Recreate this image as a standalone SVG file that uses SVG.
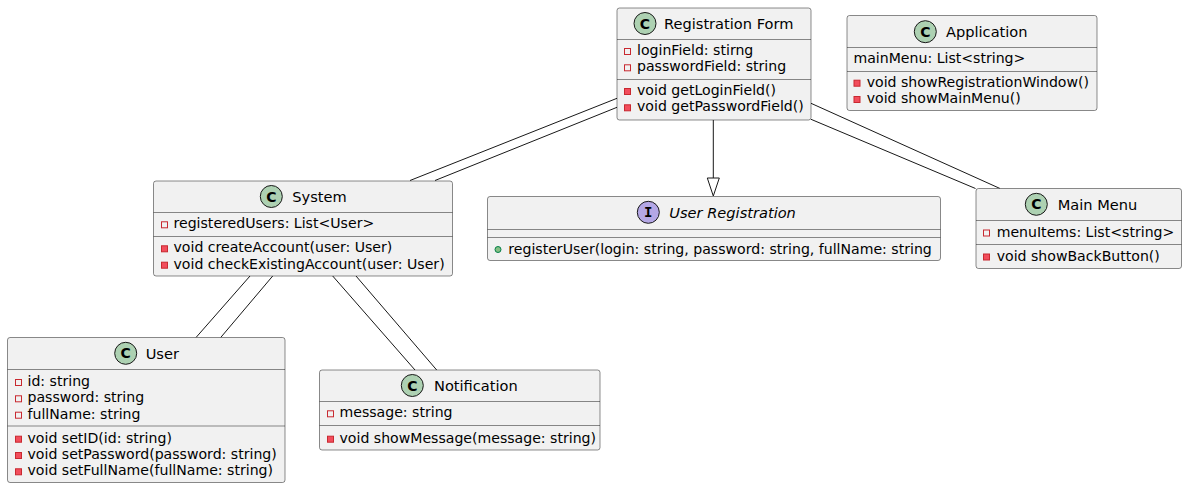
<svg xmlns="http://www.w3.org/2000/svg" width="1187" height="488" viewBox="0 0 1187 488">
<style>
text{font-family:"DejaVu Sans",Verdana,sans-serif;font-size:14.1px;fill:#000}
text.t{font-size:14.6px}
.box{fill:#F1F1F1;stroke:#181818;stroke-width:0.5}
.div{stroke:#181818;stroke-width:0.5}
.cc{fill:#ADD1B2;stroke:#181818;stroke-width:1}
.ci{fill:#B4A7E5;stroke:#181818;stroke-width:1}
.cl{font-family:"DejaVu Sans",sans-serif;font-weight:bold;font-size:14px;text-anchor:middle}
.il{font-family:"DejaVu Sans Mono",monospace;font-weight:bold;font-size:14px;text-anchor:middle}
.pf{fill:none;stroke:#C82930;stroke-width:1}
.pm{fill:#F24D5C;stroke:#C82930;stroke-width:1}
.pub{fill:#84BE84;stroke:#038048;stroke-width:1}
.edge{fill:none;stroke:#181818;stroke-width:1}
</style>
<g id="connectors">
<line class="edge" x1="617" y1="98.3" x2="410" y2="180.5"/>
<line class="edge" x1="617" y1="107.3" x2="435" y2="180.5"/>
<line class="edge" x1="713.3" y1="120" x2="713.3" y2="178"/>
<polygon points="707.3,178 719.3,178 713.3,196" fill="none" stroke="#181818" stroke-width="1"/>
<line class="edge" x1="811" y1="103.3" x2="1000" y2="188.5"/>
<line class="edge" x1="811" y1="119.3" x2="975.5" y2="188.5"/>
<line class="edge" x1="250" y1="276" x2="196" y2="337.5"/>
<line class="edge" x1="272.7" y1="276" x2="220.7" y2="337.5"/>
<line class="edge" x1="332.7" y1="276" x2="415" y2="370"/>
<line class="edge" x1="356" y1="276" x2="436.7" y2="370"/>
</g>
<g id="registration-form">
<rect class="box" x="617" y="8" width="194" height="112" rx="2.5"/>
<circle class="cc" cx="645" cy="23.5" r="11"/>
<text class="cl" x="645" y="28.5">C</text>
<text class="t" x="664" y="28.5">Registration Form</text>
<line class="div" x1="617" y1="39.5" x2="811" y2="39.5"/>
<rect class="pf" x="624.5" y="48.5" width="6" height="6"/>
<text x="637" y="55">loginField: stirng</text>
<rect class="pf" x="624.5" y="64.8" width="6" height="6"/>
<text x="637" y="71.3">passwordField: string</text>
<line class="div" x1="617" y1="79.5" x2="811" y2="79.5"/>
<rect class="pm" x="624.5" y="88.5" width="6" height="6"/>
<text x="637" y="95">void getLoginField()</text>
<rect class="pm" x="624.5" y="104.8" width="6" height="6"/>
<text x="637" y="111.3">void getPasswordField()</text>
</g>
<g id="application">
<rect class="box" x="847" y="15.5" width="250" height="95" rx="2.5"/>
<circle class="cc" cx="925.3" cy="31.7" r="11"/>
<text class="cl" x="925.3" y="36.7">C</text>
<text class="t" x="946" y="36.5">Application</text>
<line class="div" x1="847" y1="47.5" x2="1097" y2="47.5"/>
<text x="853.5" y="63.3">mainMenu: List&lt;string&gt;</text>
<line class="div" x1="847" y1="71.5" x2="1097" y2="71.5"/>
<rect class="pm" x="854" y="80.2" width="6" height="6"/>
<text x="866.7" y="86.7">void showRegistrationWindow()</text>
<rect class="pm" x="854" y="96.5" width="6" height="6"/>
<text x="866.7" y="103">void showMainMenu()</text>
</g>
<g id="system">
<rect class="box" x="153.5" y="181" width="299" height="95" rx="2.5"/>
<circle class="cc" cx="271.3" cy="196.5" r="11"/>
<text class="cl" x="271.3" y="201.5">C</text>
<text class="t" x="292.3" y="201.5">System</text>
<line class="div" x1="153.5" y1="212.5" x2="452.5" y2="212.5"/>
<rect class="pf" x="161.5" y="221.8" width="6" height="6"/>
<text x="173.5" y="228.3">registeredUsers: List&lt;User&gt;</text>
<line class="div" x1="153.5" y1="236.5" x2="452.5" y2="236.5"/>
<rect class="pm" x="161.5" y="245.8" width="6" height="6"/>
<text x="173.5" y="252.3">void createAccount(user: User)</text>
<rect class="pm" x="161.5" y="262.2" width="6" height="6"/>
<text x="173.5" y="268.7">void checkExistingAccount(user: User)</text>
</g>
<g id="user-registration">
<rect class="box" x="487.5" y="196.5" width="453" height="64" rx="2.5"/>
<circle class="ci" cx="648.3" cy="212.3" r="11"/>
<text class="il" x="648.3" y="217.3">I</text>
<text class="t" x="669.3" y="217.5" font-style="italic">User Registration</text>
<line class="div" x1="487.5" y1="229.5" x2="940.5" y2="229.5"/>
<line class="div" x1="487.5" y1="237.5" x2="940.5" y2="237.5"/>
<circle class="pub" cx="498" cy="249.5" r="3"/>
<text x="508.3" y="253.5">registerUser(login: string, password: string, fullName: string</text>
</g>
<g id="main-menu">
<rect class="box" x="976" y="188.5" width="205.5" height="80" rx="2.5"/>
<circle class="cc" cx="1036.3" cy="204.3" r="11"/>
<text class="cl" x="1036.3" y="209.3">C</text>
<text class="t" x="1057.7" y="209.5">Main Menu</text>
<line class="div" x1="976" y1="220.5" x2="1181.5" y2="220.5"/>
<rect class="pf" x="983.5" y="230" width="6" height="6"/>
<text x="996.7" y="236.5">menuItems: List&lt;string&gt;</text>
<line class="div" x1="976" y1="244.5" x2="1181.5" y2="244.5"/>
<rect class="pm" x="983.5" y="254" width="6" height="6"/>
<text x="996.7" y="260.5">void showBackButton()</text>
</g>
<g id="user">
<rect class="box" x="7.5" y="337.5" width="277.5" height="145" rx="2.5"/>
<circle class="cc" cx="125.7" cy="353.3" r="11"/>
<text class="cl" x="125.7" y="358.3">C</text>
<text class="t" x="145.7" y="358.5">User</text>
<line class="div" x1="7.5" y1="369.5" x2="285" y2="369.5"/>
<rect class="pf" x="15.5" y="379.5" width="6" height="6"/>
<text x="27.5" y="386">id: string</text>
<rect class="pf" x="15.5" y="395.8" width="6" height="6"/>
<text x="27.5" y="402.3">password: string</text>
<rect class="pf" x="15.5" y="412.2" width="6" height="6"/>
<text x="27.5" y="418.7">fullName: string</text>
<line class="div" x1="7.5" y1="426" x2="285" y2="426"/>
<rect class="pm" x="15.5" y="436.2" width="6" height="6"/>
<text x="27.5" y="442.7">void setID(id: string)</text>
<rect class="pm" x="15.5" y="452.5" width="6" height="6"/>
<text x="27.5" y="459">void setPassword(password: string)</text>
<rect class="pm" x="15.5" y="468.8" width="6" height="6"/>
<text x="27.5" y="475.3">void setFullName(fullName: string)</text>
</g>
<g id="notification">
<rect class="box" x="319.5" y="370" width="280.5" height="80" rx="2.5"/>
<circle class="cc" cx="412.3" cy="385.5" r="11"/>
<text class="cl" x="412.3" y="390.5">C</text>
<text class="t" x="434" y="390.5">Notification</text>
<line class="div" x1="319.5" y1="401.5" x2="600" y2="401.5"/>
<rect class="pf" x="327.5" y="410.8" width="6" height="6"/>
<text x="339.5" y="417.3">message: string</text>
<line class="div" x1="319.5" y1="425.5" x2="600" y2="425.5"/>
<rect class="pm" x="327.5" y="436.2" width="6" height="6"/>
<text x="339.5" y="442.7">void showMessage(message: string)</text>
</g>
</svg>
